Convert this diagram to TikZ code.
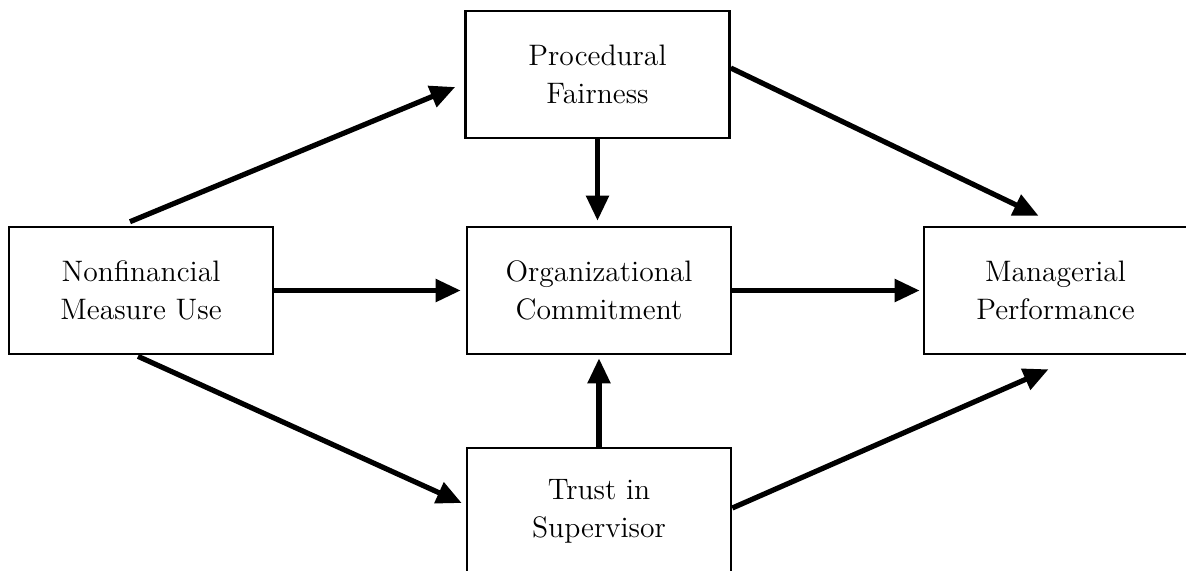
\documentclass[tikz,border=0pt]{standalone}
\usetikzlibrary{arrows.meta}
\begin{document}
\begin{tikzpicture}[x=0.5pt, y=-0.5pt,
        box/.style={draw, line width=1.3pt, minimum width=132pt, minimum height=63.5pt,
            align=center, inner sep=0pt, font=\fontsize{14.8}{19}\selectfont},
        link/.style={line width=2.6pt, -{Triangle[length=12.5pt, width=11pt]}}]
        \useasboundingbox (0,0) rectangle (1186,570);
        \node [box] (nfm) at (141,290.5) {Nonfinancial\\Measure Use};
        \node [box] (pf) at (597.5,74.5) {Procedural\\Fairness};
        \node [box] (oc) at (599,290.5) {Organizational\\Commitment};
        \node [box, minimum width=131.5pt] (mp) at (1055.5,290.5) {Managerial\\Performance};
        \node [box] (ts) at (599,511.5) {Trust in\\Supervisor};
        %\draw [link] (nfm) -- (oc);
        \draw [link] ([shift={(-5.5pt,2pt)}]nfm.north) -- ([shift={(-4.5pt,-6.25pt)}]pf.west);
        \draw [link, shorten >=2.5pt] (pf.south) -- (pf.south |- oc.north);
        \draw [link, shorten >=2.5pt] (nfm.east) -- (oc.west);
        \draw [link, shorten >=1.5pt] (oc.east) -- (mp.west);
        \draw [link] ([shift={(0pt,3.25pt)}]pf.east) -- ([shift={(-8.5pt,5pt)}]mp.north);
        \draw [link] ([shift={(-1.5pt,-0.5pt)}]nfm.south) -- ([shift={(-2pt,4.25pt)}]ts.west);
        \draw [link, shorten >=1.5pt] (ts.north) -- (oc.south);
        \draw [link] ([shift={(0pt,1.75pt)}]ts.east) -- ([shift={(-3.5pt,-7pt)}]mp.south);
    \end{tikzpicture}
\end{document}
